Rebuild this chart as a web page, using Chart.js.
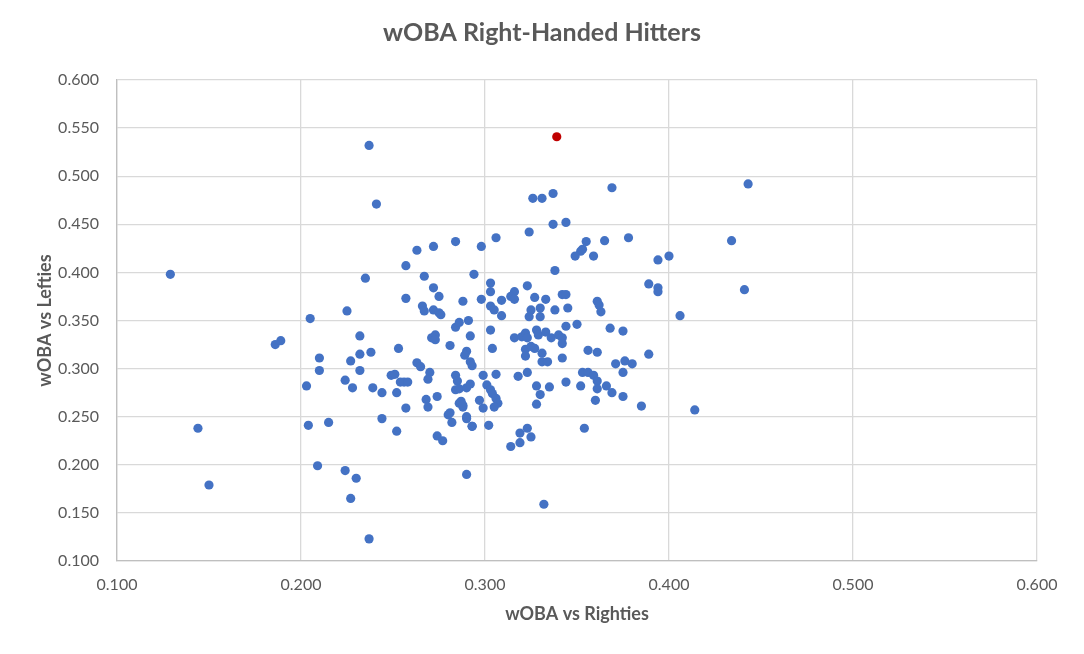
<!DOCTYPE html>
<html>
<head>
<meta charset="utf-8">
<title>wOBA Right-Handed Hitters</title>
<script src="https://cdn.jsdelivr.net/npm/chart.js@4/dist/chart.umd.min.js"></script>
<style>
  html, body { margin: 0; padding: 0; background: #ffffff; }
  #chart-wrap { width: 1084px; height: 654px; }
</style>
</head>
<body>
<div id="chart-wrap"><canvas id="woba-chart" width="1084" height="654"></canvas></div>
<script>
// wOBA vs right-handed pitchers (x) and vs left-handed pitchers (y), one entry per hitter
const vsRighties = [
  0.129, 0.144, 0.150, 0.186, 0.189, 0.203, 0.204, 0.205, 0.237, 0.241,
  0.263, 0.272, 0.257, 0.235, 0.267, 0.272, 0.257, 0.275, 0.225, 0.266,
  0.267, 0.272, 0.275, 0.232, 0.271, 0.273, 0.273, 0.253, 0.232, 0.238,
  0.210, 0.227, 0.263, 0.265, 0.210, 0.232, 0.270, 0.269, 0.224, 0.228,
  0.249, 0.251, 0.254, 0.256, 0.258, 0.239, 0.244, 0.252, 0.268, 0.274,
  0.215, 0.244, 0.257, 0.252, 0.269, 0.280, 0.282, 0.274, 0.277, 0.286,
  0.288, 0.290, 0.290, 0.293, 0.290, 0.209, 0.224, 0.230, 0.227, 0.237,
  0.326, 0.331, 0.337, 0.337, 0.344, 0.324, 0.284, 0.298, 0.306, 0.355,
  0.352, 0.349, 0.353, 0.359, 0.338, 0.294, 0.303, 0.303, 0.323, 0.316,
  0.314, 0.316, 0.288, 0.298, 0.309, 0.327, 0.333, 0.342, 0.344, 0.361,
  0.303, 0.305, 0.309, 0.325, 0.324, 0.330, 0.330, 0.338, 0.345, 0.362,
  0.276, 0.284, 0.286, 0.291, 0.303, 0.292, 0.281, 0.290, 0.289, 0.292,
  0.293, 0.304, 0.316, 0.320, 0.322, 0.323, 0.328, 0.329, 0.333, 0.336,
  0.340, 0.342, 0.342, 0.344, 0.350, 0.322, 0.325, 0.327, 0.322, 0.331,
  0.331, 0.334, 0.342, 0.356, 0.361, 0.284, 0.285, 0.284, 0.286, 0.290,
  0.292, 0.299, 0.306, 0.301, 0.303, 0.304, 0.306, 0.307, 0.305, 0.297,
  0.299, 0.287, 0.288, 0.281, 0.318, 0.323, 0.328, 0.330, 0.335, 0.328,
  0.344, 0.352, 0.353, 0.356, 0.359, 0.361, 0.361, 0.360, 0.293, 0.302,
  0.314, 0.319, 0.319, 0.323, 0.325, 0.354, 0.332, 0.369, 0.443, 0.365,
  0.378, 0.434, 0.394, 0.400, 0.389, 0.394, 0.394, 0.441, 0.363, 0.406,
  0.368, 0.375, 0.389, 0.371, 0.376, 0.380, 0.375, 0.366, 0.369, 0.375,
  0.385, 0.414
];
const vsLefties = [
  0.398, 0.238, 0.179, 0.325, 0.329, 0.282, 0.241, 0.352, 0.532, 0.471,
  0.423, 0.427, 0.407, 0.394, 0.396, 0.384, 0.373, 0.375, 0.360, 0.365,
  0.360, 0.361, 0.358, 0.334, 0.332, 0.335, 0.330, 0.321, 0.315, 0.317,
  0.311, 0.308, 0.306, 0.302, 0.298, 0.298, 0.296, 0.289, 0.288, 0.280,
  0.293, 0.294, 0.286, 0.286, 0.286, 0.280, 0.275, 0.275, 0.268, 0.271,
  0.244, 0.248, 0.259, 0.235, 0.260, 0.252, 0.244, 0.230, 0.225, 0.264,
  0.260, 0.250, 0.248, 0.240, 0.190, 0.199, 0.194, 0.186, 0.165, 0.123,
  0.477, 0.477, 0.482, 0.450, 0.452, 0.442, 0.432, 0.427, 0.436, 0.432,
  0.422, 0.417, 0.424, 0.417, 0.402, 0.398, 0.389, 0.380, 0.386, 0.380,
  0.375, 0.372, 0.370, 0.372, 0.371, 0.374, 0.372, 0.377, 0.377, 0.370,
  0.365, 0.361, 0.355, 0.361, 0.354, 0.363, 0.354, 0.361, 0.363, 0.366,
  0.356, 0.343, 0.348, 0.350, 0.340, 0.334, 0.324, 0.318, 0.314, 0.307,
  0.303, 0.321, 0.332, 0.333, 0.337, 0.332, 0.340, 0.335, 0.338, 0.332,
  0.335, 0.332, 0.326, 0.344, 0.346, 0.320, 0.323, 0.321, 0.313, 0.316,
  0.307, 0.307, 0.311, 0.319, 0.317, 0.293, 0.287, 0.278, 0.279, 0.280,
  0.284, 0.293, 0.294, 0.283, 0.278, 0.274, 0.269, 0.264, 0.260, 0.267,
  0.259, 0.266, 0.262, 0.254, 0.292, 0.296, 0.282, 0.273, 0.281, 0.263,
  0.286, 0.282, 0.296, 0.296, 0.293, 0.287, 0.279, 0.267, 0.240, 0.241,
  0.219, 0.223, 0.233, 0.238, 0.229, 0.238, 0.159, 0.488, 0.492, 0.433,
  0.436, 0.433, 0.413, 0.417, 0.388, 0.384, 0.380, 0.382, 0.359, 0.355,
  0.342, 0.339, 0.315, 0.305, 0.308, 0.305, 0.296, 0.282, 0.275, 0.271,
  0.261, 0.257
];

// the highlighted hitter
const highlightX = [0.339];
const highlightY = [0.541];

const xTicks = [0.1, 0.2, 0.3, 0.4, 0.5, 0.6];
const yTicks = [0.10, 0.15, 0.20, 0.25, 0.30, 0.35, 0.40, 0.45, 0.50, 0.55, 0.60];

const chartTitle = 'wOBA Right-Handed Hitters';
const textGray = '#595959';
const gridGray = '#d9d9d9';
const fontFamily = 'Lato, "Open Sans", "Liberation Sans", sans-serif';

function toPoints(xs, ys) {
  return xs.map((x, i) => ({ x: x, y: ys[i] }));
}

function fixedTicks(values) {
  return function(scale) {
    scale.ticks = values.map(v => ({ value: v }));
  };
}

// Title centred over the whole canvas (the built-in one centres over the padded box)
const pageTitle = {
  id: 'pageTitle',
  afterDraw(chart) {
    const c = chart.ctx;
    c.save();
    c.font = 'bold 25px ' + fontFamily;
    c.fillStyle = textGray;
    c.textAlign = 'center';
    c.textBaseline = 'middle';
    c.fillText(chartTitle, chart.width / 2, 33);
    c.restore();
  }
};

const ctx = document.getElementById('woba-chart');
new Chart(ctx, {
  type: 'scatter',
  data: {
    datasets: [
      {
        label: 'Highlighted',
        data: toPoints(highlightX, highlightY),
        backgroundColor: '#c00000',
        borderWidth: 0,
        pointRadius: 4.6,
        order: 0
      },
      {
        label: 'Hitters',
        data: toPoints(vsRighties, vsLefties),
        backgroundColor: '#4472c4',
        borderWidth: 0,
        pointRadius: 4.6,
        order: 1
      }
    ]
  },
  plugins: [pageTitle],
  options: {
    responsive: false,
    animation: false,
    devicePixelRatio: 1,
    layout: { padding: { left: 0, right: 47, top: 80, bottom: 0 } },
    plugins: {
      legend: { display: false },
      tooltip: { enabled: false },
      title: { display: false }
    },
    scales: {
      x: {
        type: 'linear',
        min: 0.1,
        max: 0.6,
        afterBuildTicks: fixedTicks(xTicks),
        afterFit: function(scale) { scale.height = 93; },
        grid: { color: gridGray, lineWidth: 1.3, drawTicks: false },
        border: { color: '#bfbfbf', width: 1.3 },
        ticks: {
          color: textGray,
          padding: 14,
          maxRotation: 0,
          font: { family: fontFamily, size: 16 },
          callback: v => v.toFixed(3)
        },
        title: {
          display: true,
          text: 'wOBA vs Righties',
          color: textGray,
          font: { family: fontFamily, size: 18, weight: 'bold', lineHeight: 1.2 },
          padding: { top: 0, bottom: 29 }
        }
      },
      y: {
        type: 'linear',
        min: 0.1,
        max: 0.6,
        afterBuildTicks: fixedTicks(yTicks),
        afterFit: function(scale) { scale.width = 117; },
        grid: { color: gridGray, lineWidth: 1.3, drawTicks: false },
        border: { color: '#bfbfbf', width: 1.3 },
        ticks: {
          color: textGray,
          padding: 18,
          font: { family: fontFamily, size: 16 },
          callback: v => v.toFixed(3)
        },
        title: {
          display: true,
          text: 'wOBA vs Lefties',
          color: textGray,
          font: { family: fontFamily, size: 18, weight: 'bold', lineHeight: 1.2 },
          padding: { top: 34, bottom: 0 }
        }
      }
    }
  }
});
</script>
</body>
</html>
